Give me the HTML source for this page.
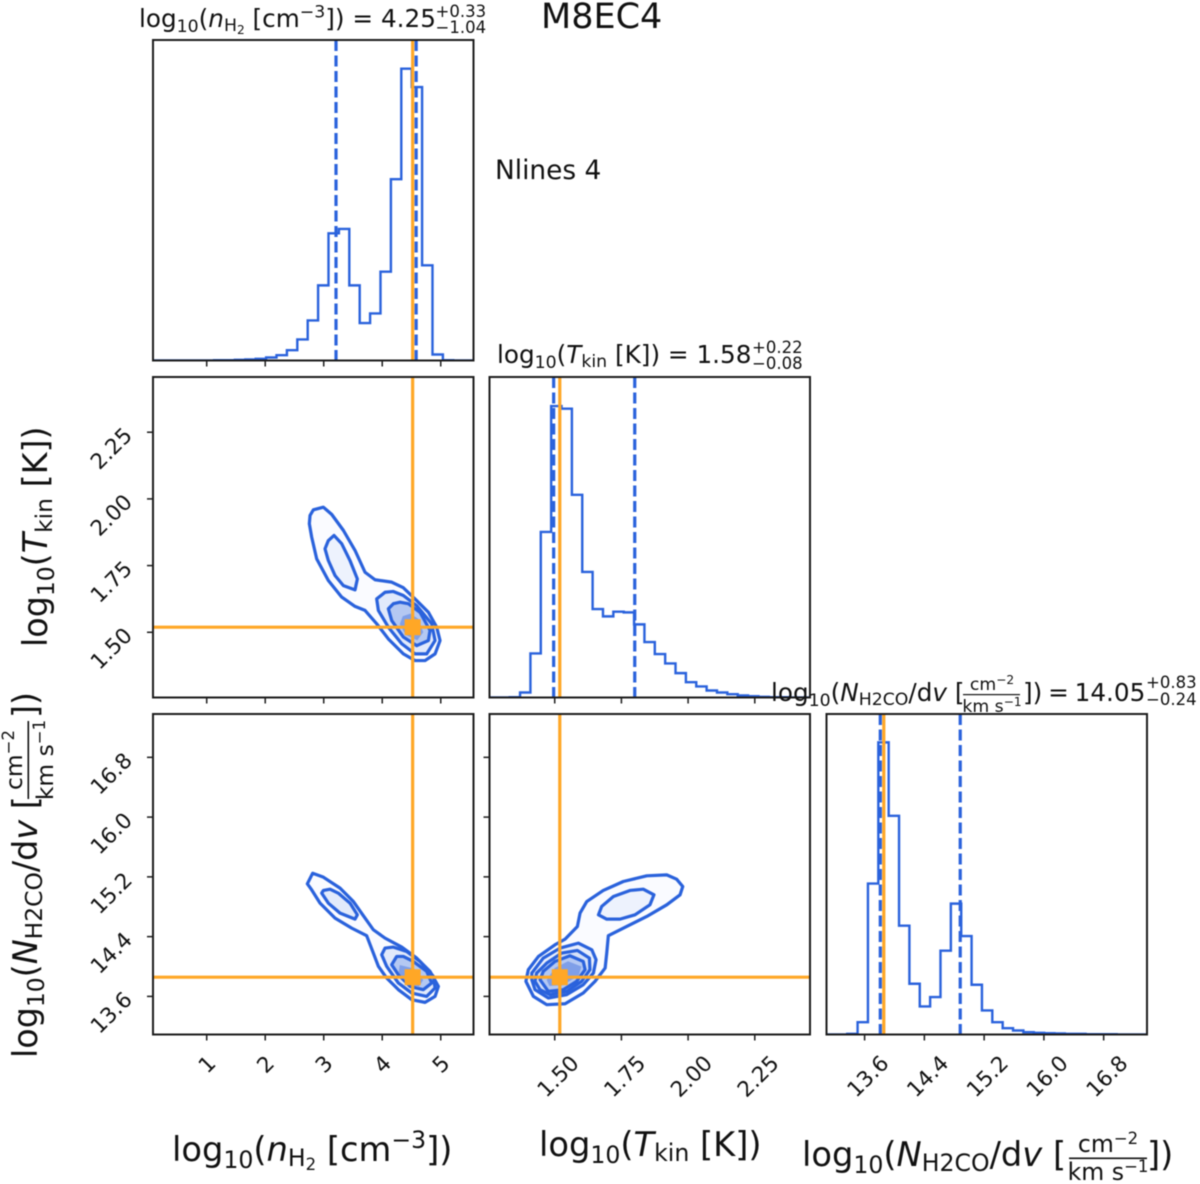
<!DOCTYPE html>
<html lang="en">
<head>
<meta charset="utf-8">
<title>M8EC4 corner plot</title>
<style>
html,body{margin:0;padding:0;background:#fff;}
svg{display:block;filter:blur(0.5px);}
text{font-family:"DejaVu Sans","Liberation Sans",sans-serif;fill:#111;white-space:pre;}
</style>
</head>
<body>
<svg id="corner" xmlns="http://www.w3.org/2000/svg" width="1200" height="1184" viewBox="0 0 1200 1184">
<rect x="0" y="0" width="1200" height="1184" fill="#fff"/>
<g id="marks"></g>
<g id="labels">
  <text x="541" y="28" font-size="35">M8EC4</text>
  <text x="495" y="179" font-size="26.4">Nlines 4</text>

  <text x="139" y="27" font-size="24.7">log<tspan dy="5" font-size="17.3">10</tspan><tspan dy="-5">(</tspan><tspan font-style="italic">n</tspan><tspan dy="4" font-size="17.3">H</tspan><tspan dy="3" font-size="12.2">2</tspan><tspan dy="-7"> [cm</tspan><tspan dy="-9.5" font-size="17.3">−3</tspan><tspan dy="9.5">]) = 4.25</tspan></text>
  <text x="435.5" y="17" font-size="16.5">+0.33</text>
  <text x="435.5" y="33" font-size="16.5">−1.04</text>

  <text x="497" y="363" font-size="24.7">log<tspan dy="5" font-size="17.3">10</tspan><tspan dy="-5">(</tspan><tspan font-style="italic">T</tspan><tspan dy="4" font-size="17.3">kin</tspan><tspan dy="-4"> [K]) = 1.58</tspan></text>
  <text x="752" y="353" font-size="16.5">+0.22</text>
  <text x="752" y="369" font-size="16.5">−0.08</text>

  <text x="771" y="701" font-size="24.7">log<tspan dy="5" font-size="17.3">10</tspan><tspan dy="-5">(</tspan><tspan font-style="italic">N</tspan><tspan dy="4" font-size="17.3">H2CO</tspan><tspan dy="-4">/d</tspan><tspan font-style="italic">v</tspan><tspan> [</tspan></text>
  <text x="992" y="690" font-size="17.3" text-anchor="middle">cm<tspan dy="-6" font-size="12.2">−2</tspan></text>
  <rect x="963" y="694" width="57" height="1.2" fill="#111"/>
  <text x="992" y="712" font-size="17.3" text-anchor="middle">km s<tspan dy="-6" font-size="12.2">−1</tspan></text>
  <text x="1023" y="701" font-size="24.7" word-spacing="-2">]) = 14.05</text>
  <text x="1146" y="688" font-size="16.5">+0.83</text>
  <text x="1146" y="705" font-size="16.5">−0.24</text>

  <text x="172" y="1161" font-size="33.7">log<tspan dy="7" font-size="23.6">10</tspan><tspan dy="-7">(</tspan><tspan font-style="italic">n</tspan><tspan dy="5" font-size="23.6">H</tspan><tspan dy="4" font-size="16.5">2</tspan><tspan dy="-9"> [cm</tspan><tspan dy="-13" font-size="23.6">−3</tspan><tspan dy="13">])</tspan></text>
  <text x="539" y="1156" font-size="33.7">log<tspan dy="7" font-size="23.6">10</tspan><tspan dy="-7">(</tspan><tspan font-style="italic">T</tspan><tspan dy="5" font-size="23.6">kin</tspan><tspan dy="-5"> [K])</tspan></text>
  <text x="802" y="1166" font-size="33.7">log<tspan dy="7" font-size="23.6">10</tspan><tspan dy="-7">(</tspan><tspan font-style="italic">N</tspan><tspan dy="5" font-size="23.6">H2CO</tspan><tspan dy="-5">/d</tspan><tspan font-style="italic">v</tspan><tspan> [</tspan></text>
  <text x="1108" y="1152" font-size="23.6" text-anchor="middle">cm<tspan dy="-8" font-size="16.5">−2</tspan></text>
  <rect x="1069" y="1157.5" width="78" height="1.6" fill="#111"/>
  <text x="1108" y="1180" font-size="23.6" text-anchor="middle">km s<tspan dy="-8" font-size="16.5">−1</tspan></text>
  <text x="1147" y="1166" font-size="33.7">])</text>

  <text transform="translate(47 647) rotate(-90)" font-size="33.4">log<tspan dy="7" font-size="23.4">10</tspan><tspan dy="-7">(</tspan><tspan font-style="italic">T</tspan><tspan dy="5" font-size="23.4">kin</tspan><tspan dy="-5"> [K])</tspan></text>
  <text transform="translate(37 1058) rotate(-90)" font-size="33.4">log<tspan dy="7" font-size="23.4">10</tspan><tspan dy="-7">(</tspan><tspan font-style="italic">N</tspan><tspan dy="5" font-size="23.4">H2CO</tspan><tspan dy="-5">/d</tspan><tspan font-style="italic">v</tspan><tspan> [</tspan></text>
  <text transform="translate(22 760) rotate(-90)" font-size="23.4" text-anchor="middle">cm<tspan dy="-8" font-size="16.5">−2</tspan></text>
  <rect x="27.5" y="721" width="1.6" height="78" fill="#111"/>
  <text transform="translate(53 760) rotate(-90)" font-size="23.4" text-anchor="middle">km s<tspan dy="-8" font-size="16.5">−1</tspan></text>
  <text transform="translate(37 718) rotate(-90)" font-size="33.4">])</text>
</g>
</svg>
<script>
// Axis limits (data units)
const nLimits = [0.082, 5.56];
const tLimits = [1.2555, 2.457];
const cLimits = [13.09, 17.38];
const histHeightLimit = 960;

// Histogram bin ranges
const nHistRange = [0.06, 5.57];
const tHistRange = [1.2535, 2.458];
const cHistRange = [13.09, 17.39];

// Histogram counts
const nHistCounts = [0,0,0,0,0,0,1,1,2,3,5,9,16,31,63,120,225,381,394,225,112,141,266,543,874,819,285,18,1,0,0];
const tHistCounts = [0,0,1,15,132,496,873,865,607,376,265,243,257,255,219,166,130,102,73,46,33,21,15,10,6,4,2,1,1,0,0];
const cHistCounts = [0,0,2,37,452,875,655,326,152,84,112,251,392,295,149,72,37,19,12,7,5,4,3,2,2,1,1,1,0,0,0];

// Quantiles and reference values
const nQuantiles = [3.21, 4.58];
const tQuantiles = [1.496, 1.80];
const cQuantiles = [13.81, 14.88];
const nTruth = 4.52;
const tTruth = 1.519;
const cTruth = 13.857;

// Tick values and labels
const nTickLabels = ["1","2","3","4","5"];
const tTickLabels = ["1.50","1.75","2.00","2.25"];
const cTickLabels = ["13.6","14.4","15.2","16.0","16.8"];

// Contours: nH2 vs Tkin
const ntOuterN = [2.766,2.823,2.994,3.136,3.336,3.535,3.706,3.877,4.162,4.361,4.589,4.789,4.931,4.988,4.903,4.732,4.561,4.361,4.105,3.905,3.706,3.535,3.307,3.079,2.880,2.794,2.754];
const ntOuterT = [1.938,1.959,1.969,1.942,1.882,1.807,1.725,1.697,1.688,1.667,1.619,1.575,1.519,1.469,1.419,1.394,1.394,1.419,1.475,1.532,1.582,1.597,1.632,1.694,1.775,1.857,1.907];
const ntLobeN = [3.176,3.079,3.022,3.079,3.193,3.336,3.535,3.575,3.449,3.307];
const ntLobeT = [1.863,1.844,1.813,1.769,1.713,1.675,1.659,1.700,1.769,1.832];
const ntMidN = [4.048,3.905,3.934,4.105,4.333,4.561,4.760,4.903,4.845,4.589,4.361,4.190];
const ntMidT = [1.650,1.625,1.582,1.519,1.457,1.419,1.419,1.469,1.532,1.600,1.638,1.653];
const ntInnerN = [4.190,4.105,4.162,4.361,4.589,4.789,4.817,4.646,4.447,4.304];
const ntInnerT = [1.607,1.588,1.544,1.482,1.450,1.469,1.507,1.575,1.607,1.613];
const ntCoreN = [4.35,4.30,4.40,4.60,4.70,4.62,4.48];
const ntCoreT = [1.56,1.53,1.49,1.47,1.50,1.55,1.57];

// Contours: nH2 vs NH2CO
const ncOuterN = [2.720,2.811,2.994,3.279,3.507,3.706,3.848,4.048,4.333,4.589,4.817,4.960,4.903,4.732,4.504,4.276,4.076,3.934,3.848,3.734,3.478,3.193,2.937,2.794];
const ncOuterC = [15.107,15.249,15.196,15.049,14.870,14.648,14.492,14.380,14.260,14.113,13.935,13.734,13.600,13.520,13.556,13.690,13.846,14.002,14.180,14.412,14.514,14.648,14.848,15.026];
const ncLobeN = [2.994,2.965,3.079,3.279,3.535,3.575,3.450,3.250,3.108];
const ncLobeC = [15.018,14.982,14.848,14.715,14.634,14.692,14.848,14.982,15.035];
const ncMidN = [4.048,3.991,4.076,4.276,4.504,4.760,4.903,4.874,4.646,4.418,4.190];
const ncMidC = [14.247,14.158,14.002,13.779,13.645,13.600,13.712,13.868,14.068,14.202,14.260];
const ncInnerN = [4.247,4.162,4.276,4.475,4.703,4.846,4.760,4.532,4.361];
const ncInnerC = [14.135,14.024,13.890,13.734,13.690,13.779,13.935,14.068,14.135];
const ncCoreN = [4.30,4.28,4.42,4.62,4.70,4.55];
const ncCoreC = [14.02,13.92,13.78,13.72,13.82,13.97];

// Contours: Tkin vs NH2CO
const tcOuterT = [1.392,1.401,1.439,1.501,1.539,1.585,1.595,1.620,1.682,1.757,1.845,1.920,1.957,1.980,1.970,1.920,1.845,1.770,1.701,1.695,1.689,1.651,1.607,1.539,1.470,1.420];
const tcOuterC = [13.801,13.957,14.135,14.291,14.367,14.536,14.715,14.870,15.018,15.138,15.214,15.227,15.169,15.071,14.960,14.826,14.670,14.536,14.412,14.180,13.979,13.801,13.645,13.502,13.489,13.600];
const tcLobeT = [1.664,1.676,1.720,1.782,1.832,1.872,1.857,1.801,1.745,1.695];
const tcLobeC = [14.692,14.804,14.937,15.018,15.035,14.960,14.826,14.692,14.634,14.634];
const tcMidT = [1.414,1.414,1.457,1.520,1.589,1.639,1.655,1.645,1.607,1.545,1.476,1.426];
const tcMidC = [13.823,13.912,14.113,14.247,14.313,14.224,14.091,13.912,13.756,13.623,13.578,13.690];
const tcMid2T = [1.426,1.432,1.470,1.526,1.585,1.630,1.632,1.601,1.545,1.482,1.445];
const tcMid2C = [13.801,13.912,14.046,14.180,14.215,14.113,13.957,13.801,13.667,13.623,13.690];
const tcInnerT = [1.445,1.457,1.501,1.557,1.607,1.614,1.582,1.532,1.476];
const tcInnerC = [13.823,13.935,14.068,14.144,14.068,13.957,13.801,13.690,13.667];
const tcCoreT = [1.47,1.50,1.55,1.60,1.59,1.53,1.48];
const tcCoreC = [13.82,13.98,14.07,14.00,13.88,13.75,13.74];

const SVG_NS = "http://www.w3.org/2000/svg";
const BLUE = "#2a62dc";
const ORANGE = "#ffa726";
const INK = "#1c1c1c";
const TICK_FONT = 21.5;
const marks = document.getElementById("marks");

function make(tag, attrs, parent) {
  const el = document.createElementNS(SVG_NS, tag);
  for (const key in attrs) el.setAttribute(key, attrs[key]);
  parent.appendChild(el);
  return el;
}
function scale(limits, pxStart, pxEnd) {
  return v => pxStart + (v - limits[0]) / (limits[1] - limits[0]) * (pxEnd - pxStart);
}

let clipCount = 0;
function panel(name, left, top, xLimits, yLimits) {
  const size = 320.5;
  const group = make("g", {}, marks);
  
  
  const clip = make("clipPath", { id: "clip" + (++clipCount) }, group);
  make("rect", { x: left, y: top, width: size, height: size }, clip);
  const body = make("g", { "clip-path": "url(#clip" + clipCount + ")" }, group);
  return {
    name, left, top, size, group, body,
    x: scale(xLimits, left, left + size),
    y: scale(yLimits, top + size, top),
    right: left + size, bottom: top + size
  };
}

function drawFrame(p) {
  const frame = make("rect", { x: p.left, y: p.top, width: p.size, height: p.size, fill: "none", stroke: INK, "stroke-width": 2 }, p.group);
  
  
}

function drawXTicks(p, labels, showLabels) {
  labels.forEach(label => {
    const px = p.x(parseFloat(label));
    const tick = make("line", { x1: px, x2: px, y1: p.bottom, y2: p.bottom + 6, stroke: INK, "stroke-width": 1.5 }, p.group);
    
    
    if (showLabels) {
      const cy = label.length > 1 ? 1076 : 1064;
      const cx = px + (label.length > 1 ? 3 : 0);
      const txt = make("text", { x: cx, y: cy, dy: "0.36em", "font-size": TICK_FONT, "text-anchor": "middle", transform: "rotate(-45 " + cx + " " + cy + ")" }, p.group);
      txt.textContent = label;
      
      
    }
  });
}

function drawYTicks(p, labels, showLabels) {
  labels.forEach(label => {
    const py = p.y(parseFloat(label));
    const tick = make("line", { x1: p.left - 6, x2: p.left, y1: py, y2: py, stroke: INK, "stroke-width": 1.5 }, p.group);
    
    
    if (showLabels) {
      const cx = 111;
      const cy = py + 16;
      const txt = make("text", { x: cx, y: cy, dy: "0.36em", "font-size": TICK_FONT, "text-anchor": "middle", transform: "rotate(-45 " + cx + " " + cy + ")" }, p.group);
      txt.textContent = label;
      
      
    }
  });
}

function drawHistogram(p, counts, range, xLimits) {
  const bx = scale(xLimits, p.left, p.right);
  const by = scale([0, histHeightLimit], p.bottom, p.top);
  const step = (range[1] - range[0]) / counts.length;
  let d = "M" + bx(range[0]) + " " + by(0);
  counts.forEach((count, i) => {
    d += "L" + bx(range[0] + i * step) + " " + by(count);
    d += "L" + bx(range[0] + (i + 1) * step) + " " + by(count);
  });
  d += "L" + bx(range[1]) + " " + by(0);
  const line = make("path", { d, fill: "none", stroke: BLUE, "stroke-width": 2.4, "stroke-linejoin": "miter" }, p.body);
  
  
}

function drawQuantiles(p, values) {
  values.forEach(v => {
    const px = p.x(v);
    const line = make("line", { x1: px, x2: px, y1: p.top, y2: p.bottom, stroke: BLUE, "stroke-width": 3.2, "stroke-dasharray": "11 4.5" }, p.body);
    
    
  });
}

function drawVTruth(p, value) {
  const px = p.x(value);
  const line = make("line", { x1: px, x2: px, y1: p.top, y2: p.bottom, stroke: ORANGE, "stroke-width": 3.2 }, p.body);
  
  
}

function drawHTruth(p, value) {
  const py = p.y(value);
  const line = make("line", { x1: p.left, x2: p.right, y1: py, y2: py, stroke: ORANGE, "stroke-width": 3.2 }, p.body);
  
  
}

function drawTruthMarker(p, vx, vy) {
  const s = 16;
  const square = make("rect", { x: p.x(vx) - s / 2, y: p.y(vy) - s / 2, width: s, height: s, fill: ORANGE }, p.body);
  
  
}

function drawContour(p, xs, ys, fill, stroked) {
  const pts = xs.map((v, i) => p.x(v) + "," + p.y(ys[i])).join(" ");
  const poly = make("polygon", { points: pts, fill: fill, stroke: stroked ? BLUE : "none", "stroke-width": 3.2, "stroke-linejoin": "round" }, p.body);
  
  
}

// Panels
const pN = panel("nh2-histogram", 153, 40, nLimits, [0, 1]);
const pT = panel("tkin-histogram", 489.5, 377, tLimits, [0, 1]);
const pC = panel("nh2co-histogram", 826.5, 714, cLimits, [0, 1]);
const pNT = panel("nh2-tkin", 153, 377, nLimits, tLimits);
const pNC = panel("nh2-nh2co", 153, 714, nLimits, cLimits);
const pTC = panel("tkin-nh2co", 489.5, 714, tLimits, cLimits);

// Histograms
drawHistogram(pN, nHistCounts, nHistRange, nLimits);
drawQuantiles(pN, nQuantiles);
drawVTruth(pN, nTruth);
drawHistogram(pT, tHistCounts, tHistRange, tLimits);
drawQuantiles(pT, tQuantiles);
drawVTruth(pT, tTruth);
drawHistogram(pC, cHistCounts, cHistRange, cLimits);
drawQuantiles(pC, cQuantiles);
drawVTruth(pC, cTruth);

// Contours
drawContour(pNT, ntOuterN, ntOuterT, "#fafbff", true);
drawContour(pNT, ntLobeN, ntLobeT, "#edf2fd", true);
drawContour(pNT, ntMidN, ntMidT, "#e1e9fb", true);
drawContour(pNT, ntInnerN, ntInnerT, "#b4c8f2", true);
drawContour(pNT, ntCoreN, ntCoreT, "#7f9fe8", false);

drawContour(pNC, ncOuterN, ncOuterC, "#fafbff", true);
drawContour(pNC, ncLobeN, ncLobeC, "#e2eafb", true);
drawContour(pNC, ncMidN, ncMidC, "#e1e9fb", true);
drawContour(pNC, ncInnerN, ncInnerC, "#b4c8f2", true);
drawContour(pNC, ncCoreN, ncCoreC, "#7f9fe8", false);

drawContour(pTC, tcOuterT, tcOuterC, "#fafbff", true);
drawContour(pTC, tcLobeT, tcLobeC, "#edf2fd", true);
drawContour(pTC, tcMidT, tcMidC, "#e8eefc", true);
drawContour(pTC, tcMid2T, tcMid2C, "#d6e1f9", true);
drawContour(pTC, tcInnerT, tcInnerC, "#b4c8f2", true);
drawContour(pTC, tcCoreT, tcCoreC, "#7f9fe8", false);

// Reference lines and markers
drawVTruth(pNT, nTruth);
drawHTruth(pNT, tTruth);
drawTruthMarker(pNT, nTruth, tTruth);
drawVTruth(pNC, nTruth);
drawHTruth(pNC, cTruth);
drawTruthMarker(pNC, nTruth, cTruth);
drawVTruth(pTC, tTruth);
drawHTruth(pTC, cTruth);
drawTruthMarker(pTC, tTruth, cTruth);

// Frames and ticks
[pN, pT, pC, pNT, pNC, pTC].forEach(drawFrame);
drawXTicks(pN, nTickLabels, false);
drawXTicks(pNT, nTickLabels, false);
drawXTicks(pNC, nTickLabels, true);
drawXTicks(pT, tTickLabels, false);
drawXTicks(pTC, tTickLabels, true);
drawXTicks(pC, cTickLabels, true);
drawYTicks(pNT, tTickLabels, true);
drawYTicks(pNC, cTickLabels, true);
drawYTicks(pTC, cTickLabels, false);
</script>
</body>
</html>
